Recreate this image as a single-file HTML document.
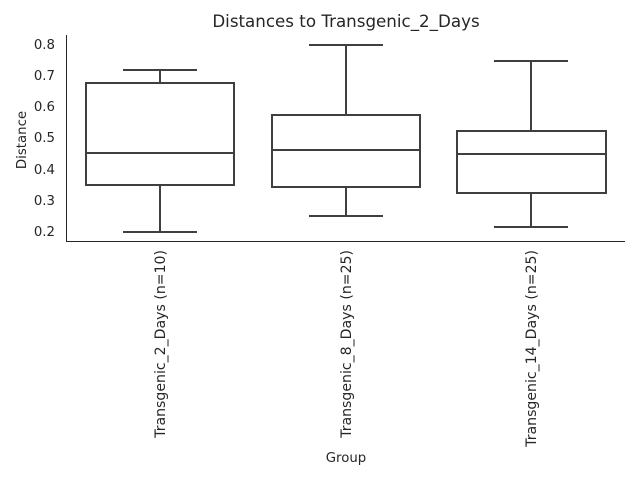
<!DOCTYPE html>
<html><head><style>
body{margin:0;background:#fff;}
svg text{font-family:"DejaVu Sans",sans-serif;fill:#262626;}
</style></head><body>
<svg width="640" height="480" viewBox="0 0 640 480" xmlns="http://www.w3.org/2000/svg">
<rect width="640" height="480" fill="#fff"/>
<text x="346" y="27" font-size="16.7" text-anchor="middle">Distances to Transgenic_2_Days</text>
<line x1="66.5" y1="35" x2="66.5" y2="241.5" stroke="#262626" stroke-width="1"/>
<line x1="66" y1="241.5" x2="625" y2="241.5" stroke="#262626" stroke-width="1"/>
<g font-size="13.3" text-anchor="end">
<text x="55" y="49">0.8</text><text x="55" y="80">0.7</text><text x="55" y="111">0.6</text>
<text x="55" y="142">0.5</text><text x="55" y="174">0.4</text><text x="55" y="205">0.3</text>
<text x="55" y="236">0.2</text>
</g>
<text transform="translate(26,140) rotate(-90)" font-size="13.3" text-anchor="middle">Distance</text>
<text x="346" y="462" font-size="13.3" text-anchor="middle">Group</text>
<g font-size="14.1" text-anchor="end">
<text transform="translate(165,250) rotate(-90)">Transgenic_2_Days (n=10)</text>
<text transform="translate(351,250) rotate(-90)">Transgenic_8_Days (n=25)</text>
<text transform="translate(536,250) rotate(-90)">Transgenic_14_Days (n=25)</text>
</g>
<g stroke="#3f3f3f" stroke-width="2" fill="none">
<rect x="86" y="83" width="148" height="102"/>
<line x1="86" y1="153" x2="234" y2="153"/>
<line x1="160" y1="185" x2="160" y2="232"/><line x1="123" y1="232" x2="197" y2="232"/>
<line x1="160" y1="83" x2="160" y2="70"/><line x1="123" y1="70" x2="197" y2="70"/>
<rect x="272" y="115" width="148" height="72"/>
<line x1="272" y1="150" x2="420" y2="150"/>
<line x1="346" y1="187" x2="346" y2="216"/><line x1="309" y1="216" x2="383" y2="216"/>
<line x1="346" y1="115" x2="346" y2="45"/><line x1="309" y1="45" x2="383" y2="45"/>
<rect x="457" y="131" width="149" height="62"/>
<line x1="457" y1="154" x2="606" y2="154"/>
<line x1="531" y1="193" x2="531" y2="227"/><line x1="494" y1="227" x2="568" y2="227"/>
<line x1="531" y1="131" x2="531" y2="61"/><line x1="494" y1="61" x2="568" y2="61"/>
</g>
</svg>
</body></html>
